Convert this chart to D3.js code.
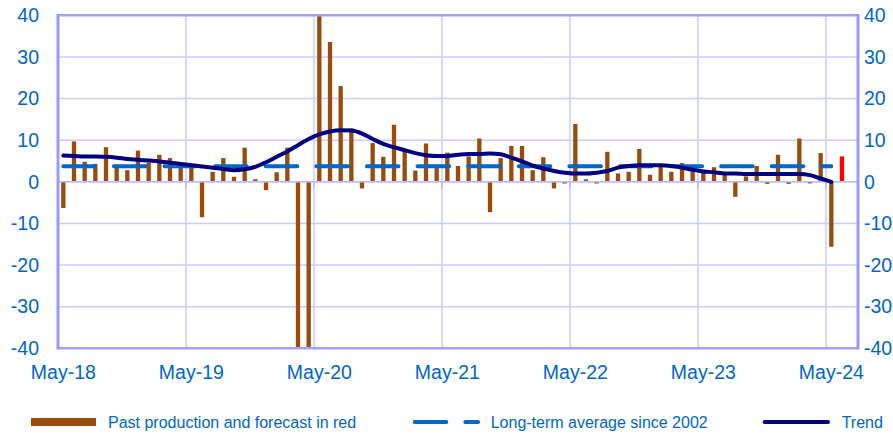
<!DOCTYPE html>
<html>
<head>
<meta charset="utf-8">
<script src="https://cdn.jsdelivr.net/npm/d3@7"></script>
<style>
  body { margin: 0; background: #fff; }
  text { font-family: "Liberation Sans", Arial, sans-serif; }
</style>
</head>
<body>
<div class="chart"></div>
<script>
// Monthly production change, long-term average and trend (May-18 .. Jul-24)

var firstMonth = new Date(2018, 4, 1),
    endMonth = new Date(2024, 7, 1);   // exclusive, so last category is Jul-24

var tickLabels = ["May-18", "May-19", "May-20", "May-21", "May-22", "May-23", "May-24"];
var yTicks = [-40, -30, -20, -10, 0, 10, 20, 30, 40];

// past production, May-18 .. May-24
var production = [
  -6.3, 9.7, 4.8, 4.3, 8.3, 3.7, 2.8, 7.5, 4.6, 6.5, 5.7, 3.8,
  3.4, -8.5, 2.4, 5.7, 1.2, 8.2, 0.6, -2.0, 2.3, 8.2, -45, -48,
  42, 33.6, 23.0, 12.8, -1.6, 9.3, 6.0, 13.7, 7.4, 2.7, 9.2, 3.3,
  7.0, 3.8, 6.1, 10.4, -7.3, 5.7, 8.6, 8.6, 2.8, 5.9, -1.6, -0.4,
  13.9, 0.6, -0.4, 7.2, 2.0, 2.4, 7.9, 1.7, 4.2, 2.4, 4.5, 2.9,
  2.9, 3.5, 2.1, -3.6, 1.3, 3.8, -0.5, 6.5, -0.5, 10.4, -0.4, 6.9,
  -15.6
];

// forecast for Jun-24
var forecast = [6.1];

var longTermAverage = 3.75;

var trend = [
  6.3, 6.2, 6.1, 6.1, 6.0, 5.8, 5.5, 5.3, 5.1, 4.9, 4.6, 4.3,
  4.0, 3.7, 3.4, 3.1, 2.8, 3.0, 3.6, 4.7, 6.0, 7.3, 8.8, 10.3,
  11.4, 12.1, 12.4, 12.3, 11.6, 10.3, 9.1, 8.3, 7.6, 6.9, 6.4, 6.2,
  6.2, 6.5, 6.7, 6.7, 6.8, 6.6, 5.8, 4.9, 3.9, 3.2, 2.6, 2.2,
  2.0, 2.0, 2.2, 2.6, 3.4, 3.8, 4.0, 4.0, 4.0, 3.8, 3.4, 2.9,
  2.5, 2.3, 2.0, 2.0, 1.9, 1.9, 1.9, 1.9, 1.9, 1.9, 1.6, 0.8,
  0.0
];

var width = 893,
    height = 435,
    plot = {left: 58, right: 858, top: 15.3, bottom: 348.3},
    blue = "#0066CC",
    brown = "#9B4B0A",
    grid = "#CCCCFF",
    frame = "#A3A3FF",
    labelSize = "19.5px";

var fmt = d3.timeFormat("%b-%y");
var months = d3.timeMonth.range(firstMonth, endMonth).map(fmt);

var x = d3.scaleBand().domain(months).range([plot.left, plot.right]),
    y = d3.scaleLinear().domain([-40, 40]).range([plot.bottom, plot.top]);

var svg = d3.select(".chart").append("svg")
    .attr("width", width)
    .attr("height", height);

svg.append("clipPath").attr("id", "clip")
  .append("rect")
    .attr("x", plot.left).attr("y", plot.top)
    .attr("width", plot.right - plot.left)
    .attr("height", plot.bottom - plot.top);

// horizontal gridlines
svg.append("g")
    .selectAll("line")
    .data(yTicks.filter(function(d) { return d > -40 && d < 40; }))
    .enter().append("line")
    .attr("x1", plot.left).attr("x2", plot.right)
    .attr("y1", function(d) { return y(d); })
    .attr("y2", function(d) { return y(d); })
    .attr("stroke", grid)
    .attr("stroke-width", 1.5);

// vertical gridlines at each May
var yearStarts = tickLabels.slice(1);
svg.append("g")
    .selectAll("line")
    .data(yearStarts)
    .enter().append("line")
    .attr("x1", function(d) { return x(d); })
    .attr("x2", function(d) { return x(d); })
    .attr("y1", plot.top).attr("y2", plot.bottom)
    .attr("stroke", grid)
    .attr("stroke-width", 1.5);

// small ticks under the zero line
svg.append("g")
    .selectAll("line")
    .data(yearStarts)
    .enter().append("line")
    .attr("x1", function(d) { return x(d); })
    .attr("x2", function(d) { return x(d); })
    .attr("y1", y(0)).attr("y2", y(0) + 7)
    .attr("stroke", "#B8B8FF")
    .attr("stroke-width", 1.5);

var barW = 4.3;
var bars = svg.append("g").attr("clip-path", "url(#clip)");

bars.selectAll(".bar")
    .data(production)
    .enter().append("rect")
    .attr("class", "bar")
    .attr("x", function(d, i) { return x(months[i]) + x.bandwidth() / 2 - barW / 2; })
    .attr("y", function(d) { return y(Math.max(0, d)); })
    .attr("width", barW)
    .attr("height", function(d) { return Math.abs(y(d) - y(0)); })
    .attr("fill", brown);

bars.selectAll(".fc")
    .data(forecast)
    .enter().append("rect")
    .attr("class", "fc")
    .attr("x", function(d, i) { return x(months[production.length + i]) + x.bandwidth() / 2 - barW / 2; })
    .attr("y", function(d) { return y(Math.max(0, d)); })
    .attr("width", barW)
    .attr("height", function(d) { return Math.abs(y(d) - y(0)); })
    .attr("fill", "#FF0000");

// zero line
svg.append("line")
    .attr("x1", plot.left).attr("x2", plot.right)
    .attr("y1", y(0)).attr("y2", y(0))
    .attr("stroke", "#BDBDFF")
    .attr("stroke-width", 1.5);

var cx = function(i) { return x(months[i]) + x.bandwidth() / 2; };

// long-term average, dashed
svg.append("line")
    .attr("x1", cx(0)).attr("x2", cx(production.length - 1))
    .attr("y1", y(longTermAverage)).attr("y2", y(longTermAverage))
    .attr("stroke", blue)
    .attr("stroke-width", 4)
    .attr("stroke-linecap", "round")
    .attr("stroke-dasharray", "31.6,19");

// trend
var line = d3.line()
    .x(function(d, i) { return cx(i); })
    .y(function(d) { return y(d); })
    .curve(d3.curveMonotoneX);

svg.append("path")
    .datum(trend)
    .attr("d", line)
    .attr("fill", "none")
    .attr("stroke", "#000080")
    .attr("stroke-width", 4)
    .attr("stroke-linecap", "round");

// frame
svg.append("g")
    .selectAll("line")
    .data([
      [plot.left, plot.top, plot.right, plot.top],
      [plot.left, plot.bottom, plot.right, plot.bottom]
    ])
    .enter().append("line")
    .attr("x1", function(d) { return d[0]; }).attr("y1", function(d) { return d[1]; })
    .attr("x2", function(d) { return d[2]; }).attr("y2", function(d) { return d[3]; })
    .attr("stroke", frame)
    .attr("stroke-width", 2.5);

svg.append("g")
    .selectAll("line")
    .data([plot.left, plot.right])
    .enter().append("line")
    .attr("x1", function(d) { return d; }).attr("x2", function(d) { return d; })
    .attr("y1", plot.top - 1.2).attr("y2", plot.bottom + 1.2)
    .attr("stroke", "#9999FF")
    .attr("stroke-width", 3);

// y axis labels, both sides (plain hyphen for negatives, as in the original)
var plain = function(d) { return String(d); };
var yLeft = svg.append("g")
    .attr("transform", "translate(" + (plot.left - 6) + ",0)")
    .call(d3.axisLeft(y).tickValues(yTicks).tickFormat(plain).tickSize(0).tickPadding(13));
var yRight = svg.append("g")
    .attr("transform", "translate(" + (plot.right + 4) + ",0)")
    .call(d3.axisRight(y).tickValues(yTicks).tickFormat(plain).tickSize(0).tickPadding(2));

[yLeft, yRight].forEach(function(g) {
  g.select(".domain").remove();
  g.selectAll("text")
    .attr("fill", blue)
    .style("font-size", labelSize)
    .style("font-family", "'Liberation Sans', Arial, sans-serif");
});

// x labels, centred on the month
svg.append("g")
    .selectAll("text")
    .data(tickLabels)
    .enter().append("text")
    .attr("x", function(d) { return x(d) + x.bandwidth() / 2; })
    .attr("y", 379)
    .attr("text-anchor", "middle")
    .attr("fill", blue)
    .style("font-size", labelSize)
    .text(function(d) { return d; });

// legend
var lg = svg.append("g").style("font-size", "16px");

lg.append("rect")
    .attr("x", 31).attr("y", 418).attr("width", 65).attr("height", 8)
    .attr("fill", brown);
lg.append("text").attr("x", 108).attr("y", 428).attr("fill", blue)
    .text("Past production and forecast in red");

lg.append("line")
    .attr("x1", 414.7).attr("x2", 478).attr("y1", 422).attr("y2", 422)
    .attr("stroke", blue).attr("stroke-width", 4)
    .attr("stroke-linecap", "round")
    .attr("stroke-dasharray", "31.6,19");
lg.append("text").attr("x", 490.7).attr("y", 428).attr("fill", blue)
    .text("Long-term average since 2002");

lg.append("line")
    .attr("x1", 764.7).attr("x2", 828).attr("y1", 422).attr("y2", 422)
    .attr("stroke", "#000080").attr("stroke-width", 4)
    .attr("stroke-linecap", "round");
lg.append("text").attr("x", 841.7).attr("y", 428).attr("fill", blue)
    .text("Trend");
</script>
</body>
</html>
